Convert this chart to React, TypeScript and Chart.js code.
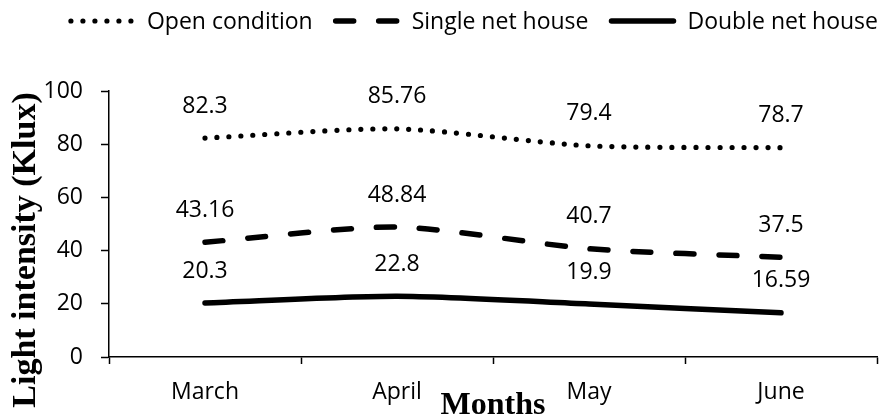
import React, { useEffect, useRef } from 'react';
import { Chart, registerables } from 'chart.js';

Chart.register(...registerables);

// ---- Data ----
const months = ['March', 'April', 'May', 'June'];
const openCondition = [82.3, 85.76, 79.4, 78.7];
const singleNetHouse = [43.16, 48.84, 40.7, 37.5];
const doubleNetHouse = [20.3, 22.8, 19.9, 16.59];
const seriesNames = ['Open condition', 'Single net house', 'Double net house'];
const yTickValues = [0, 20, 40, 60, 80, 100];
const xTitle = 'Months';
const yTitle = 'Light intensity (Klux)';

// ---- Styles ----
const SANS = '"Open Sans", "Noto Sans", sans-serif';
const SERIF = '"Liberation Serif", "Times New Roman", serif';
const FONT_SIZE = 23;
const INK = '#000000';

const valueLabelsPlugin = {
  id: 'valueLabels',
  afterDatasetsDraw(chart: any) {
    const ctx = chart.ctx;
    ctx.save();
    ctx.font = `${FONT_SIZE}px ${SANS}`;
    ctx.fillStyle = INK;
    ctx.textAlign = 'center';
    ctx.textBaseline = 'middle';
    chart.data.datasets.forEach((ds: any, i: number) => {
      const meta = chart.getDatasetMeta(i);
      meta.data.forEach((pt: any, j: number) => {
        ctx.fillText(String(ds.data[j]), pt.x, pt.y - 32);
      });
    });
    ctx.restore();
  },
};

const axisTitlesPlugin = {
  id: 'axisTitles',
  afterDraw(chart: any) {
    const ctx = chart.ctx;
    const a = chart.chartArea;
    ctx.save();
    ctx.fillStyle = INK;
    ctx.font = `bold 32px ${SERIF}`;
    ctx.textAlign = 'center';
    ctx.textBaseline = 'alphabetic';
    ctx.fillText(xTitle, (a.left + a.right) / 2, a.bottom + 57);
    ctx.translate(35, (a.top + a.bottom) / 2 + 26);
    ctx.rotate(-Math.PI / 2);
    ctx.font = `bold 34px ${SERIF}`;
    ctx.fillText(yTitle, 0, 0);
    ctx.restore();
  },
};

const legendPlugin = {
  id: 'customLegend',
  afterDraw(chart: any) {
    const ctx = chart.ctx;
    const sampleLen = 62;
    const gapToText = 14;
    const gapBetween = 23;
    const rightEdge = 878;
    const lineY = 21;
    const textY = 22;
    ctx.save();
    ctx.font = `${FONT_SIZE}px ${SANS}`;
    const items = chart.data.datasets.map((ds: any) => ({
      ds,
      w: ctx.measureText(ds.label).width,
    }));
    const total = items.reduce((s: number, it: any) => s + sampleLen + gapToText + it.w, 0) + gapBetween * (items.length - 1);
    let x = rightEdge - total;
    items.forEach((it: any) => {
      const ds = it.ds;
      ctx.save();
      ctx.strokeStyle = ds.borderColor;
      ctx.lineWidth = ds.borderWidth;
      ctx.lineCap = ds.borderCapStyle || 'butt';
      ctx.setLineDash(ds.borderDash || []);
      ctx.beginPath();
      ctx.moveTo(x, lineY);
      ctx.lineTo(x + sampleLen, lineY);
      ctx.stroke();
      ctx.restore();
      ctx.fillStyle = INK;
      ctx.textAlign = 'left';
      ctx.textBaseline = 'middle';
      ctx.fillText(ds.label, x + sampleLen + gapToText, textY);
      x += sampleLen + gapToText + it.w + gapBetween;
    });
    ctx.restore();
  },
};

export default function App() {
  const canvasRef = useRef<HTMLCanvasElement | null>(null);

  useEffect(() => {
    if (!canvasRef.current) return;
    const chart = new Chart(canvasRef.current, {
      type: 'line',
      data: {
        labels: months,
        datasets: [
          {
            label: seriesNames[0],
            data: openCondition,
            borderColor: INK,
            borderWidth: 5.2,
            borderDash: [0, 12],
            borderCapStyle: 'round',
            borderJoinStyle: 'round',
            pointRadius: 0,
            tension: 0.25,
            fill: false,
          },
          {
            label: seriesNames[1],
            data: singleNetHouse,
            borderColor: INK,
            borderWidth: 5.5,
            borderDash: [18, 25],
            borderCapStyle: 'round',
            borderJoinStyle: 'round',
            pointRadius: 0,
            tension: 0.25,
            fill: false,
          },
          {
            label: seriesNames[2],
            data: doubleNetHouse,
            borderColor: INK,
            borderWidth: 5.5,
            borderCapStyle: 'round',
            borderJoinStyle: 'round',
            pointRadius: 0,
            tension: 0.25,
            fill: false,
          },
        ],
      },
      options: {
        animation: false,
        responsive: false,
        maintainAspectRatio: false,
        layout: { padding: { left: 44, right: 6, top: 91, bottom: 0 } },
        plugins: {
          legend: { display: false },
          tooltip: { enabled: false },
        },
        scales: {
          x: {
            type: 'category',
            offset: true,
            grid: {
              display: true,
              drawOnChartArea: false,
              offset: true,
              tickLength: 7,
              color: INK,
              tickWidth: 1.5,
            },
            border: { display: true, color: INK, width: 1.5 },
            ticks: {
              color: INK,
              font: { family: SANS, size: FONT_SIZE },
              padding: 15,
              maxRotation: 0,
              autoSkip: false,
            },
            afterFit: (s: any) => {
              s.height = 58;
            },
          },
          y: {
            min: 0,
            max: 100,
            grid: {
              display: true,
              drawOnChartArea: false,
              tickLength: 8,
              color: INK,
              tickWidth: 1.5,
            },
            border: { display: true, color: INK, width: 1.5 },
            ticks: {
              color: INK,
              font: { family: SANS, size: FONT_SIZE },
              padding: 18,
            },
            afterBuildTicks: (s: any) => {
              s.ticks = yTickValues.map((v) => ({ value: v }));
            },
            afterFit: (s: any) => {
              s.width = 65;
            },
          },
        },
      },
      plugins: [valueLabelsPlugin, axisTitlesPlugin, legendPlugin],
    } as any);
    return () => chart.destroy();
  }, []);

  return (
    <div style={{ position: 'absolute', left: 0, top: 0, width: 883, height: 415 }}>
      <canvas ref={canvasRef} width={883} height={415} style={{ width: 883, height: 415, display: 'block' }} />
    </div>
  );
}
